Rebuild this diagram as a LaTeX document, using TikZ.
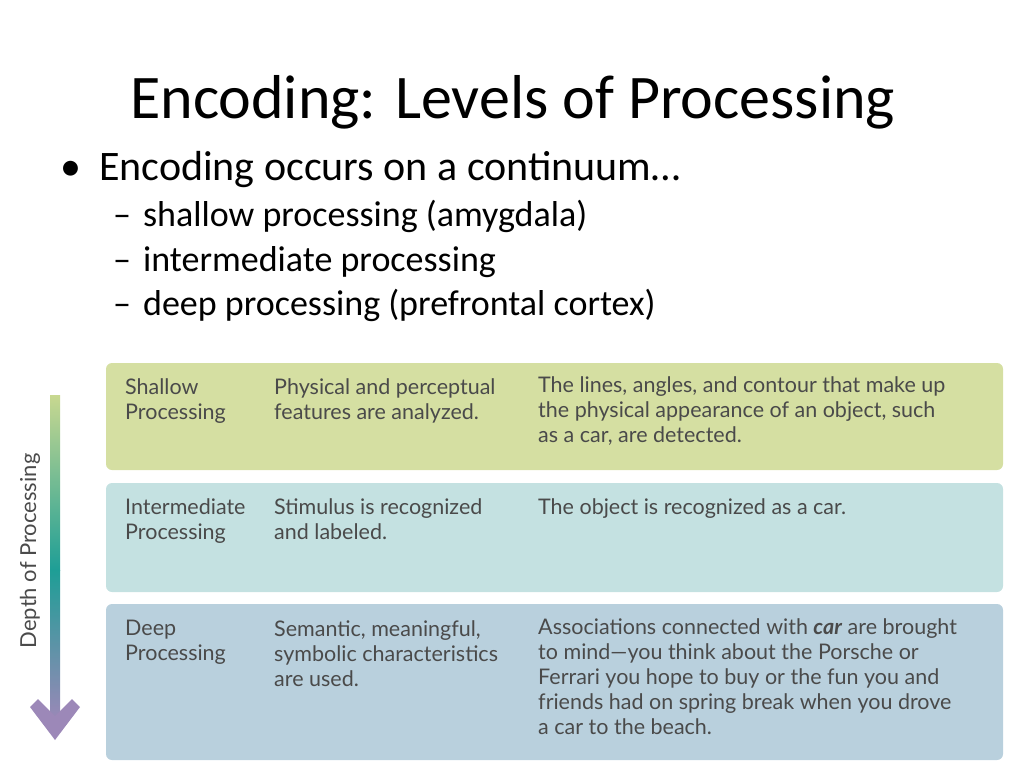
\documentclass[tikz,border=0pt]{standalone}
\usepackage{fontspec}
\setmainfont{Carlito}
\newfontfamily\tabfont[Ligatures=TeX]{Lato}
\usetikzlibrary{positioning}
\definecolor{shallowcol}{HTML}{D5DFA2}
\definecolor{midcol}{HTML}{C4E1E1}
\definecolor{deepcol}{HTML}{B9D0DD}
\definecolor{tabtext}{HTML}{4A4A4A}
\definecolor{arrowtop}{HTML}{C8D890}
\definecolor{arrowmid}{HTML}{1E9E96}
\definecolor{arrowbot}{HTML}{9C88B8}
\tikzset{
  band/.style={rounded corners=6pt, draw=none},
  celltext/.style={anchor=north west, inner sep=0pt, align=left, text=tabtext,
    font=\tabfont\fontsize{21.5}{25}\selectfont},
  subitem/.style={anchor=base west, inner sep=0pt, font=\fontsize{36}{40}\selectfont}
}
\begin{document}
\begin{tikzpicture}[x=1pt,y=-1pt]
    \useasboundingbox (0,0) rectangle (1024,768);
    % title and bullets
    \node[anchor=base west, inner sep=0pt, font=\fontsize{62}{70}\selectfont] (title) at (130,118) {Encoding: Levels of Processing};
    \node[anchor=base west, inner sep=0pt, font=\fontsize{42}{48}\selectfont] (bullet) at (60,180) {\textbullet\hspace{18pt}Encoding occurs on a continuum\dots};
    \node[subitem] (sub1) at (113,226) {--\hspace{12pt}shallow processing (amygdala)};
    \node[subitem] (sub2) at (113,271) {--\hspace{12pt}intermediate processing};
    \node[subitem] (sub3) at (113,315) {--\hspace{12pt}deep processing (prefrontal cortex)};
    % bands
    \fill[band, shallowcol] (106,363) rectangle (1003,470);
    \fill[band, midcol] (106,483) rectangle (1003,592);
    \fill[band, deepcol] (106,604) rectangle (1003,760);
    % shallow row
    \node[celltext] (sh1) at (125,378) {Shallow\\Processing};
    \node[celltext] (sh2) at (274,378) {Physical and perceptual\\features are analyzed.};
    \node[celltext] (sh3) at (538,376) {The lines, angles, and contour that make up\\the physical appearance of an object, such\\as a car, are detected.};
    % intermediate row
    \node[celltext] (in1) at (125,498) {Intermediate\\Processing};
    \node[celltext] (in2) at (274,498) {Stimulus is recognized\\and labeled.};
    \node[celltext] (in3) at (538,498) {The object is recognized as a car.};
    % deep row
    \node[celltext] (dp1) at (125,620) {Deep\\Processing};
    \node[celltext] (dp2) at (274,620) {Semantic, meaningful,\\symbolic characteristics\\are used.};
    \node[celltext] (dp3) at (538,618) {Associations connected with \textbf{\textit{car}} are brought\\to mind---you think about the Porsche or\\Ferrari you hope to buy or the fun you and\\friends had on spring break when you drove\\a car to the beach.};
    % depth arrow
    \shade[top color=arrowtop, bottom color=arrowmid] (50,395) rectangle (60,570);
    \shade[top color=arrowmid, bottom color=arrowbot] (50,570) rectangle (60,722);
    \fill[arrowbot] (30,707) -- (38,699) -- (55,716) -- (72,699) -- (80,707) -- (55,740) -- cycle;
    \node[rotate=90, inner sep=0pt, text=tabtext, font=\tabfont\fontsize{22}{24}\selectfont] (depth) at (30,551) {Depth of Processing};
\end{tikzpicture}
\end{document}
